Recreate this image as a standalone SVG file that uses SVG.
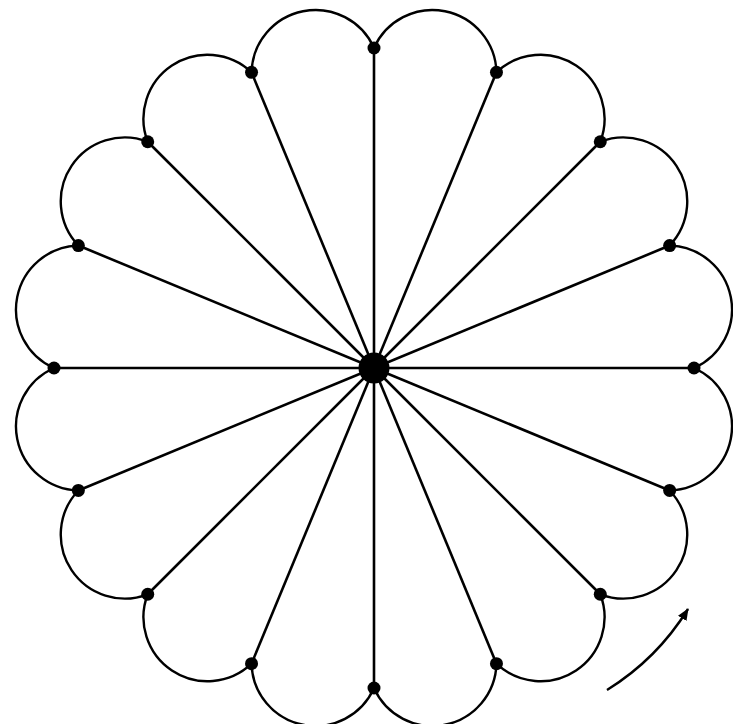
<svg xmlns="http://www.w3.org/2000/svg" width="733" height="724" viewBox="0 0 733 724">
<style>
.sp{stroke:#000;stroke-width:2.6;fill:none}
.sc{stroke:#000;stroke-width:2.4;fill:none}
.d{fill:#000}
</style>
<defs>
<marker id="ah" viewBox="0 0 12 10" refX="11" refY="5" markerWidth="12" markerHeight="10" markerUnits="userSpaceOnUse" orient="auto">
<path d="M0,0 L12,5 L0,10 Z" fill="#000"/>
</marker>
</defs>
<rect width="733" height="724" fill="#fff"/>
<g id="connectors">
<line class="sp" x1="374" y1="368" x2="374" y2="48"/>
<line class="sp" x1="374" y1="368" x2="496.46" y2="72.36"/>
<line class="sp" x1="374" y1="368" x2="600.27" y2="141.73"/>
<line class="sp" x1="374" y1="368" x2="669.64" y2="245.54"/>
<line class="sp" x1="374" y1="368" x2="694" y2="368"/>
<line class="sp" x1="374" y1="368" x2="669.64" y2="490.46"/>
<line class="sp" x1="374" y1="368" x2="600.27" y2="594.27"/>
<line class="sp" x1="374" y1="368" x2="496.46" y2="663.64"/>
<line class="sp" x1="374" y1="368" x2="374" y2="688"/>
<line class="sp" x1="374" y1="368" x2="251.54" y2="663.64"/>
<line class="sp" x1="374" y1="368" x2="147.73" y2="594.27"/>
<line class="sp" x1="374" y1="368" x2="78.36" y2="490.46"/>
<line class="sp" x1="374" y1="368" x2="54" y2="368"/>
<line class="sp" x1="374" y1="368" x2="78.36" y2="245.54"/>
<line class="sp" x1="374" y1="368" x2="147.73" y2="141.73"/>
<line class="sp" x1="374" y1="368" x2="251.54" y2="72.36"/>
<path class="sc" d="M374,48 A64,64 0 0 1 496.46,72.36 A64,64 0 0 1 600.27,141.73 A64,64 0 0 1 669.64,245.54 A64,64 0 0 1 694,368 A64,64 0 0 1 669.64,490.46 A64,64 0 0 1 600.27,594.27 A64,64 0 0 1 496.46,663.64 A64,64 0 0 1 374,688 A64,64 0 0 1 251.54,663.64 A64,64 0 0 1 147.73,594.27 A64,64 0 0 1 78.36,490.46 A64,64 0 0 1 54,368 A64,64 0 0 1 78.36,245.54 A64,64 0 0 1 147.73,141.73 A64,64 0 0 1 251.54,72.36 A64,64 0 0 1 374,48 Z"/>
<path class="sc" d="M607,690 Q657,659 688,609" marker-end="url(#ah)"/>
</g>
<g id="center"><circle class="d" cx="374" cy="368" r="15.5"/></g>
<g id="p0"><circle class="d" cx="374" cy="48" r="6.5"/></g>
<g id="p1"><circle class="d" cx="496.46" cy="72.36" r="6.5"/></g>
<g id="p2"><circle class="d" cx="600.27" cy="141.73" r="6.5"/></g>
<g id="p3"><circle class="d" cx="669.64" cy="245.54" r="6.5"/></g>
<g id="p4"><circle class="d" cx="694" cy="368" r="6.5"/></g>
<g id="p5"><circle class="d" cx="669.64" cy="490.46" r="6.5"/></g>
<g id="p6"><circle class="d" cx="600.27" cy="594.27" r="6.5"/></g>
<g id="p7"><circle class="d" cx="496.46" cy="663.64" r="6.5"/></g>
<g id="p8"><circle class="d" cx="374" cy="688" r="6.5"/></g>
<g id="p9"><circle class="d" cx="251.54" cy="663.64" r="6.5"/></g>
<g id="p10"><circle class="d" cx="147.73" cy="594.27" r="6.5"/></g>
<g id="p11"><circle class="d" cx="78.36" cy="490.46" r="6.5"/></g>
<g id="p12"><circle class="d" cx="54" cy="368" r="6.5"/></g>
<g id="p13"><circle class="d" cx="78.36" cy="245.54" r="6.5"/></g>
<g id="p14"><circle class="d" cx="147.73" cy="141.73" r="6.5"/></g>
<g id="p15"><circle class="d" cx="251.54" cy="72.36" r="6.5"/></g>
</svg>
